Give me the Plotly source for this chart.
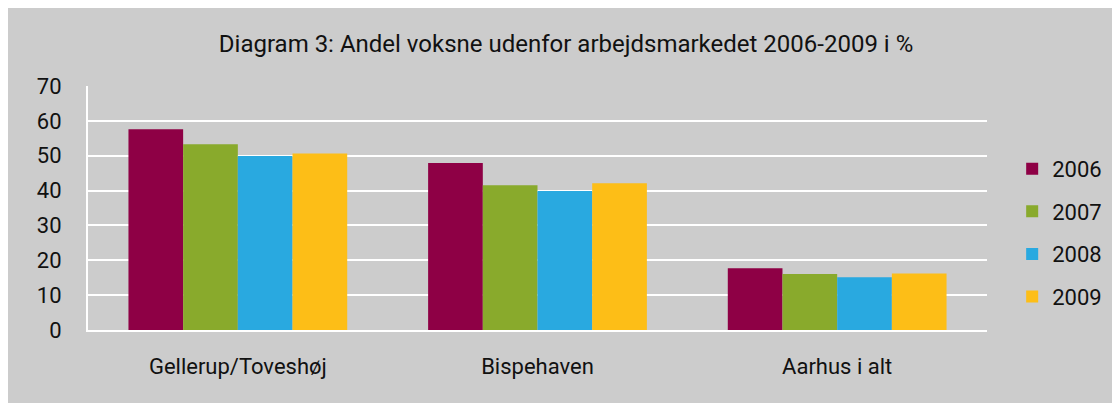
import plotly.graph_objects as go

categories = ["Gellerup/Toveshøj", "Bispehaven", "Aarhus i alt"]
years = ["2006", "2007", "2008", "2009"]
values_2006 = [57.6, 47.9, 17.7]
values_2007 = [53.3, 41.5, 16.1]
values_2008 = [49.9, 39.9, 15.1]
values_2009 = [50.6, 42.1, 16.2]
series = [values_2006, values_2007, values_2008, values_2009]
colors = ["#8E0045", "#89AA2C", "#29A9E0", "#FDBE17"]
y_ticks = [0, 10, 20, 30, 40, 50, 60, 70]

# page body adds an 8px offset; figure coordinates are relative to it
W, H = 1120, 403
ML, MR, MT, MB = 80, 141, 78, 81
FONT = "Roboto, 'DejaVu Sans', sans-serif"

fig = go.Figure()
for i, (yr, vals) in enumerate(zip(years, series)):
    fig.add_trace(go.Bar(
        x=categories, y=vals, name=yr,
        marker=dict(color=colors[i], line=dict(width=0)),
        legendgroup=yr,
    ))

fig.update_layout(
    width=W, height=H,
    margin=dict(l=ML, r=MR, t=MT, b=MB, autoexpand=False),
    paper_bgcolor="#CCCCCC", plot_bgcolor="#CCCCCC",
    font=dict(family=FONT, size=22, color="#111111"),
    title=dict(text="Diagram 3: Andel voksne udenfor arbejdsmarkedet 2006-2009 i %",
               x=(566 - 8) / W, xanchor="center", y=1 - 36 / H, yanchor="middle",
               font=dict(size=24, family=FONT, color="#111111")),
    barmode="group", bargap=0.27, bargroupgap=0,
    showlegend=True,
    legend=dict(x=1.028, xanchor="left", y=0.398, yanchor="middle",
                bgcolor="rgba(0,0,0,0)", traceorder="grouped",
                tracegroupgap=11, font=dict(size=22)),
    xaxis=dict(showgrid=False, showline=True, linecolor="white", linewidth=2,
               ticks="", ticklabelstandoff=16, tickfont=dict(size=22)),
    yaxis=dict(range=[0, 70], tickvals=y_ticks, showgrid=True,
               gridcolor="white", gridwidth=2, showline=True, linecolor="white",
               linewidth=2, zeroline=False, ticks="", ticklabelstandoff=20,
               tickfont=dict(size=22)),
)

fig.write_html("out.html")
